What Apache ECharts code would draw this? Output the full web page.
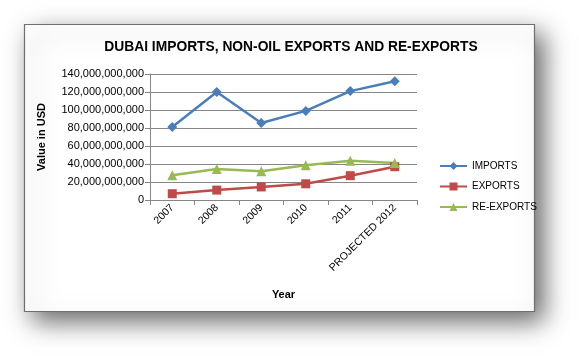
<!DOCTYPE html>
<html><head><meta charset="utf-8">
<script src="https://cdn.jsdelivr.net/npm/echarts@6/dist/echarts.min.js"></script>
<style>html,body{margin:0;padding:0;background:#fff}#c{width:579px;height:356px}</style>
</head><body><div id="c"></div>
<script>
const categories = ['2007','2008','2009','2010','2011','PROJECTED 2012'];
const imports = [81e9, 120e9, 85.5e9, 99e9, 121e9, 132e9];
const exportsV = [7e9, 11e9, 14.5e9, 18e9, 27e9, 37e9];
const reExports = [27.5e9, 34.5e9, 32e9, 38.5e9, 43.5e9, 41e9];
const yTicks = [0, 20e9, 40e9, 60e9, 80e9, 100e9, 120e9, 140e9];

const F = '"Liberation Sans", Arial, sans-serif';
const chart = echarts.init(document.getElementById('c'), null, {renderer:'canvas'});
const fmt = v => v.toLocaleString('en-US');
chart.setOption({
  animation:false,
  backgroundColor:'#fff',
  graphic:[{type:'rect', z:-10, zlevel:0, silent:true,
    shape:{x:24.5,y:24.5,width:510,height:287},
    style:{fill:'#fff', stroke:'#6f6f6f', lineWidth:1.2, shadowBlur:24, shadowColor:'rgba(0,0,0,0.6)', shadowOffsetX:8, shadowOffsetY:9}}],
  title:{text:'DUBAI IMPORTS, NON-OIL EXPORTS AND RE-EXPORTS', left:286, textAlign:'center', top:35,
    textStyle:{fontFamily:F, fontSize:13.8, fontWeight:'bold', color:'#000'}},
  grid:{left:150, top:74, right:162, bottom:156, containLabel:false},
  legend:{orient:'vertical', left:434, top:156, itemGap:10.5, itemWidth:27, itemHeight:10,
    textStyle:{fontFamily:F, fontSize:10, color:'#000'},
    data:['IMPORTS','EXPORTS','RE-EXPORTS']},
  xAxis:{type:'category', data:categories, boundaryGap:true,
    name:'Year', nameLocation:'middle', nameGap:89,
    nameTextStyle:{fontFamily:F, fontSize:11, fontWeight:'bold', color:'#000'},
    axisLine:{lineStyle:{color:'#868686'}},
    axisTick:{show:true, length:5, lineStyle:{color:'#868686'}},
    axisLabel:{rotate:45, fontFamily:F, fontSize:10.5, color:'#000', margin:6}},
  yAxis:{type:'value', min:0, max:140e9, interval:20e9,
    name:'Value in USD', nameLocation:'middle', nameGap:103,
    nameTextStyle:{fontFamily:F, fontSize:11, fontWeight:'bold', color:'#000'},
    axisLine:{show:true, lineStyle:{color:'#868686'}},
    axisTick:{show:true, length:5, lineStyle:{color:'#868686'}},
    splitLine:{show:true, lineStyle:{color:'#868686'}},
    axisLabel:{fontFamily:F, fontSize:11, color:'#000', margin:6, formatter:v=>fmt(v)}},
  series:[
    {name:'IMPORTS', type:'line', data:imports, symbol:'diamond', symbolSize:10,
      lineStyle:{width:2.5, color:'#4A7EBB'}, itemStyle:{color:'#4A7EBB'}},
    {name:'EXPORTS', type:'line', data:exportsV, symbol:'rect', symbolSize:9,
      lineStyle:{width:2.5, color:'#BE4B48'}, itemStyle:{color:'#BE4B48'}},
    {name:'RE-EXPORTS', type:'line', data:reExports, symbol:'triangle', symbolSize:10,
      lineStyle:{width:2.5, color:'#98B954'}, itemStyle:{color:'#98B954'}}
  ]
});
</script></body></html>
